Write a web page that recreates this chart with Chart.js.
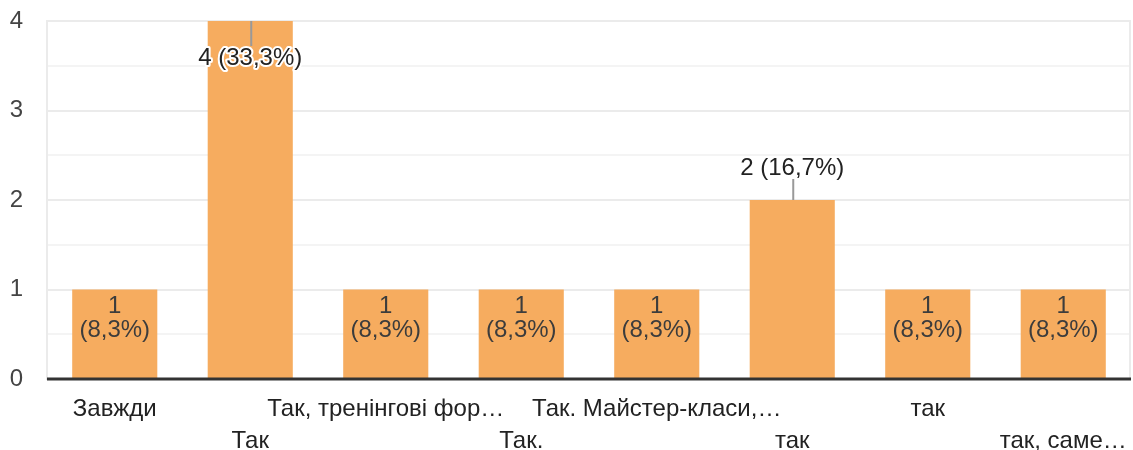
<!DOCTYPE html>
<html><head><meta charset="utf-8">
<script src="https://cdn.jsdelivr.net/npm/chart.js@4.4.1/dist/chart.umd.min.js"></script>
<style>html,body{margin:0;padding:0;background:#fff;} canvas{display:block;}</style>
</head><body>
<canvas id="c" width="1133" height="450"></canvas>
<script>
const categories = ['Завжди', 'Так', 'Так, тренінгові фор…', 'Так.', 'Так. Майстер-класи,…', 'так', 'так', 'так, саме…'];
const counts = [1, 4, 1, 1, 1, 2, 1, 1];
const yTickLabels = [0, 1, 2, 3, 4];

const total = counts.reduce((a, b) => a + b, 0);
const FONT = '"Liberation Sans", Arial, sans-serif';

const labelPlugin = {
  id: 'barLabels',
  beforeDatasetsDraw(chart) {
    const ctx = chart.ctx, a = chart.chartArea;
    ctx.save();
    ctx.strokeStyle = '#ebebeb';
    ctx.lineWidth = 2;
    ctx.beginPath();
    ctx.moveTo(a.right - 1, a.top);
    ctx.lineTo(a.right - 1, a.bottom);
    ctx.stroke();
    ctx.restore();
  },
  afterDatasetsDraw(chart) {
    const ctx = chart.ctx, a = chart.chartArea;
    const meta = chart.getDatasetMeta(0);
    const y0 = chart.scales.y.getPixelForValue(0);
    ctx.save();
    ctx.strokeStyle = '#333';
    ctx.lineWidth = 3;
    ctx.beginPath();
    ctx.moveTo(a.left, y0);
    ctx.lineTo(a.right, y0);
    ctx.stroke();

    ctx.font = '24px ' + FONT;
    ctx.textAlign = 'center';
    ctx.textBaseline = 'middle';
    const leader = (x, y1, y2) => {
      ctx.strokeStyle = '#999';
      ctx.lineWidth = 2;
      ctx.beginPath();
      ctx.moveTo(x, y1);
      ctx.lineTo(x, y2);
      ctx.stroke();
    };
    meta.data.forEach((bar, i) => {
      const v = counts[i];
      const pct = (v / total * 100).toFixed(1).replace('.', ',');
      const one = v + ' (' + pct + '%)';
      const h = bar.base - bar.y;
      if (h < 120) {
        ctx.fillStyle = '#3c3c3c';
        ctx.fillText(String(v), bar.x, bar.y + 17);
        ctx.fillText('(' + pct + '%)', bar.x, bar.y + 41);
      } else if (bar.y - a.top > 40) {
        leader(bar.x + 1, bar.y - 21, bar.y);
        ctx.fillStyle = '#222';
        ctx.fillText(one, bar.x, bar.y - 32);
      } else {
        leader(bar.x + 1, bar.y, bar.y + 25);
        ctx.lineJoin = 'round';
        ctx.strokeStyle = '#fff';
        ctx.lineWidth = 4;
        ctx.strokeText(one, bar.x, bar.y + 37);
        ctx.fillStyle = '#222';
        ctx.fillText(one, bar.x, bar.y + 37);
      }
    });
    ctx.restore();
  }
};

new Chart(document.getElementById('c'), {
  type: 'bar',
  data: {
    labels: categories,
    datasets: [{
      data: counts,
      backgroundColor: '#F6AC5F',
      borderWidth: 0,
      barPercentage: 0.628,
      categoryPercentage: 1
    }]
  },
  options: {
    responsive: false,
    animation: false,
    layout: { padding: { top: 21, right: 2, left: 0, bottom: 0 } },
    plugins: { legend: { display: false }, tooltip: { enabled: false } },
    scales: {
      x: {
        grid: { display: false },
        border: { display: false },
        ticks: {
          autoSkip: false,
          maxRotation: 0,
          minRotation: 0,
          padding: 6,
          color: '#222',
          font: { family: FONT, size: 24, lineHeight: 32 / 24 },
          callback: (v, i) => i % 2 === 0 ? [categories[i]] : ['', categories[i]]
        },
        afterFit: s => { s.height = 71; s.paddingTop = 0; s.paddingBottom = 0; }
      },
      y: {
        min: 0,
        max: 4,
        grid: {
          drawTicks: false,
          lineWidth: 2,
          color: c => Number.isInteger(c.tick.value) ? '#ebebeb' : '#f4f4f4'
        },
        border: { display: true, color: '#ebebeb', width: 2 },
        ticks: {
          stepSize: 0.5,
          padding: 24,
          color: '#444',
          font: { family: FONT, size: 24 },
          callback: v => yTickLabels.includes(v) ? String(v) : ''
        },
        afterFit: s => { s.width = 47; s.paddingTop = 0; s.paddingBottom = 0; }
      }
    }
  },
  plugins: [labelPlugin]
});
</script>
</body></html>
